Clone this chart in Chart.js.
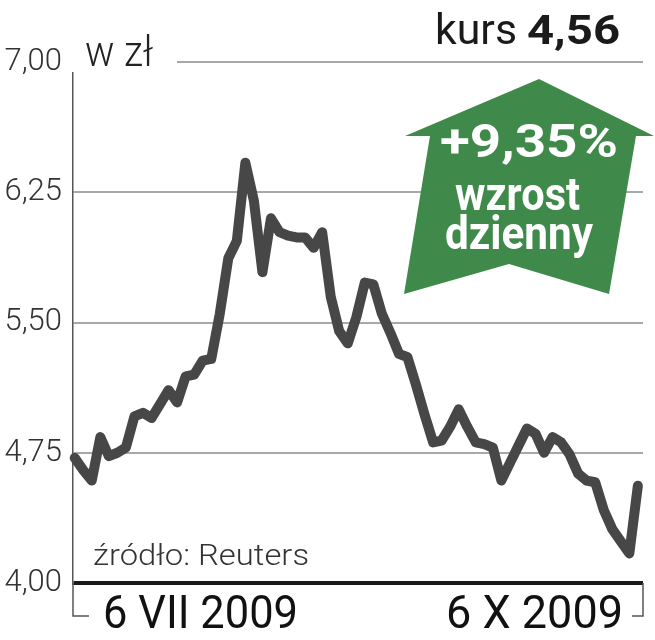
<!DOCTYPE html>
<html>
<head>
<meta charset="utf-8">
<script src="https://cdn.jsdelivr.net/npm/chart.js@4"></script>
<style>
  html, body { margin: 0; padding: 0; background: #fff; }
  canvas { display: block; }
</style>
</head>
<body>
<canvas id="c" width="655" height="640"></canvas>
<script>
// ---- data ----
const dayIndex = Array.from({length: 67}, (_, i) => i); // trading days 6 VII 2009 .. 6 X 2009
const prices = [
  4.72, 4.65, 4.59, 4.84, 4.73, 4.75, 4.78, 4.96, 4.98, 4.95,
  5.03, 5.11, 5.04, 5.19, 5.20, 5.28, 5.29, 5.55, 5.87, 5.97,
  6.42, 6.20, 5.79, 6.10, 6.02, 6.00, 5.99, 5.99, 5.93, 6.02,
  5.65, 5.45, 5.38, 5.53, 5.73, 5.72, 5.55, 5.44, 5.32, 5.30,
  5.14, 4.97, 4.81, 4.82, 4.90, 5.00, 4.90, 4.81, 4.80, 4.78,
  4.59, 4.69, 4.79, 4.89, 4.86, 4.75, 4.84, 4.81, 4.74, 4.63,
  4.59, 4.58, 4.42, 4.31, 4.24, 4.17, 4.56
];
const yTicks = [4.00, 4.75, 5.50, 6.25, 7.00];
const dateLabels = ['6 VII 2009', '6 X 2009'];
const unitLabel = 'w zł';
const sourceLabel = 'źródło: Reuters';
const kursLabel = 'kurs';
const kursValue = '4,56';
const changeLabel = ['+9,35%', 'wzrost', 'dzienny'];

const FONT = 'Roboto, "Liberation Sans", sans-serif';

function fitText(ctx, text, x, y, w, font, color) {
  ctx.save();
  ctx.font = font;
  ctx.fillStyle = color;
  ctx.textAlign = 'left';
  ctx.textBaseline = 'alphabetic';
  const m = ctx.measureText(text).width;
  ctx.translate(x, y);
  ctx.scale(w / m, 1);
  ctx.fillText(text, 0, 0);
  ctx.restore();
}

const decor = {
  id: 'decor',
  beforeDatasetsDraw(chart) {
    const ctx = chart.ctx;
    ctx.save();
    ctx.fillStyle = '#fff';
    ctx.fillRect(70, 20, 107, 52); // gap behind "w zł"
    ctx.restore();
  },
  afterDraw(chart) {
    const ctx = chart.ctx;
    const a = chart.chartArea;
    // brackets under the baseline
    ctx.save();
    ctx.strokeStyle = '#555';
    ctx.lineWidth = 1.5;
    ctx.beginPath();
    ctx.moveTo(a.left, a.bottom); ctx.lineTo(a.left, 616); ctx.lineTo(89, 616);
    ctx.moveTo(a.right, a.bottom); ctx.lineTo(a.right, 616); ctx.lineTo(632, 616);
    ctx.stroke();
    ctx.restore();

    // green arrow
    ctx.save();
    ctx.fillStyle = '#3f8a4a';
    ctx.beginPath();
    ctx.moveTo(539, 79);
    ctx.lineTo(654, 136);
    ctx.lineTo(636, 136);
    ctx.lineTo(609, 294);
    ctx.lineTo(509, 264);
    ctx.lineTo(404, 294);
    ctx.lineTo(430, 136);
    ctx.lineTo(405, 136);
    ctx.closePath();
    ctx.fill();
    ctx.restore();

    fitText(ctx, changeLabel[0], 440, 157, 178, `bold 46px ${FONT}`, '#fff');
    fitText(ctx, changeLabel[1], 455, 210, 125, `bold 46px ${FONT}`, '#fff');
    fitText(ctx, changeLabel[2], 445, 249, 148, `bold 46px ${FONT}`, '#fff');

    fitText(ctx, unitLabel, 85, 66, 68, `300 42px ${FONT}`, '#222');
    fitText(ctx, kursLabel, 435, 44, 82, `400 43px ${FONT}`, '#1a1a1a');
    fitText(ctx, kursValue, 527, 44, 93, `bold 41px ${FONT}`, '#1a1a1a');
    fitText(ctx, sourceLabel, 93, 565, 216, `300 30px ${FONT}`, '#333');
    fitText(ctx, dateLabels[0], 103, 628, 195, `400 46px ${FONT}`, '#111');
    fitText(ctx, dateLabels[1], 446, 628, 177, `400 46px ${FONT}`, '#111');
  }
};

new Chart(document.getElementById('c'), {
  type: 'line',
  data: {
    datasets: [{
      data: dayIndex.map((d, i) => ({x: d, y: prices[i]})),
      borderColor: '#474747',
      borderWidth: 10,
      borderJoinStyle: 'round',
      borderCapStyle: 'round',
      pointRadius: 0,
      tension: 0,
      fill: false,
      clip: false
    }]
  },
  options: {
    responsive: false,
    animation: false,
    devicePixelRatio: 1,
    layout: { autoPadding: false, padding: { top: 62, bottom: 57, left: 0, right: 12 } },
    plugins: { legend: { display: false }, tooltip: { enabled: false } },
    scales: {
      x: { type: 'linear', display: false, min: -0.2, max: 66.6 },
      y: {
        min: 4, max: 7,
        afterFit(scale) { scale.width = 73; },
        afterBuildTicks(scale) { scale.ticks = yTicks.map(v => ({value: v})); },
        ticks: {
          padding: 11,
          color: '#333',
          font: { family: FONT, size: 31, weight: '300' },
          callback: v => v.toFixed(2).replace('.', ',')
        },
        grid: {
          drawTicks: false,
          color: ctx => ctx.tick && ctx.tick.value === 4 ? '#1a1a1a' : '#a8a8a8',
          lineWidth: ctx => ctx.tick && ctx.tick.value === 4 ? 4 : 2
        },
        border: { display: true, color: '#555', width: 1.5 }
      }
    }
  },
  plugins: [decor]
});
</script>
</body>
</html>
